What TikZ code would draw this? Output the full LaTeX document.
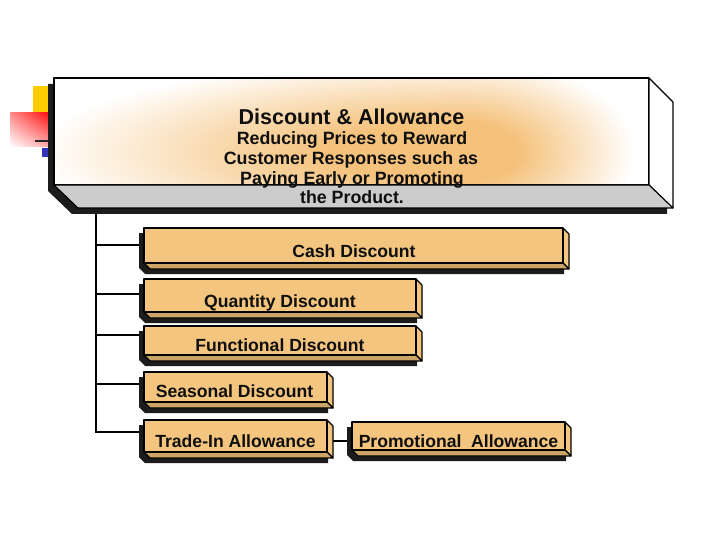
\documentclass[tikz,border=0pt]{standalone}
\usepackage{fontspec}
\setmainfont{Liberation Sans}
\usetikzlibrary{fit,calc,shadings}
\definecolor{peach}{RGB}{245,194,124}
\definecolor{itemfill}{RGB}{244,197,126}
\definecolor{itembot}{RGB}{204,164,104}
\definecolor{shadowc}{RGB}{28,28,28}
\definecolor{bevgray}{RGB}{204,204,204}
\definecolor{yellowc}{RGB}{255,204,0}
\definecolor{bluec}{RGB}{51,51,187}
\definecolor{inkc}{RGB}{15,15,15}
\pgfdeclareradialshading{glow}{\pgfpoint{0bp}{0bp}}{color(0bp)=(peach); color(8bp)=(peach); color(25bp)=(white); color(50bp)=(white)}
\pgfdeclarelayer{bg}
\pgfsetlayers{bg,main}
\tikzset{
  outline/.style={draw=black, line width=1.1pt, line join=round},
  itemface/.style={outline, fill=itemfill, inner sep=0pt, outer sep=0pt},
  sideface/.style={outline, fill=itemfill},
  botface/.style={outline, fill=itembot},
  treeline/.style={draw=black, line width=2.4pt},
  titletext/.style={font=\fontsize{21.5}{24}\selectfont\bfseries, text=inkc, inner sep=0pt, anchor=base},
  subtext/.style={font=\fontsize{17.8}{20}\selectfont\bfseries, text=inkc, inner sep=0pt, anchor=base},
  itemtext/.style={font=\fontsize{17.6}{20}\selectfont\bfseries, text=inkc, inner sep=0pt, anchor=base},
}
\newcommand\itembox[5]{%
  \fill[shadowc, shift={(-5,5)}] (#2,#3) -- (#4,#3) -- ({#4+6},{#3+6}) -- ({#4+6},{#5+6}) -- ({#2+6},{#5+6}) -- (#2,#5) -- cycle;
  \filldraw[sideface] (#4,#3) -- ({#4+6},{#3+6}) -- ({#4+6},{#5+6}) -- (#4,#5) -- cycle;
  \filldraw[botface] (#2,#5) -- (#4,#5) -- ({#4+6},{#5+6}) -- ({#2+6},{#5+6}) -- cycle;
  \path (#2,#3) coordinate (#1-nw) (#4,#5) coordinate (#1-se);
  \node[itemface, fit=(#1-nw)(#1-se)] (#1) {};
}
\begin{document}
\begin{tikzpicture}[x=1pt,y=-1pt]
\useasboundingbox (0,0) rectangle (720,540);
% decorations
\fill[yellowc] (33,86) rectangle (54,113);
\shade[upper left=red!45!white, upper right=red, lower left=white, lower right=red!35!white] (10,113) rectangle (54,147);
\draw[line width=2.5pt, black!85] (35,141) -- (54,141);
\fill[bluec] (42,148) rectangle (54,157);
% top box
\fill[shadowc, shift={(-6,6)}] (54,78) -- (649,78) -- (673,102) -- (673,208) -- (78,208) -- (54,185) -- cycle;
\fill[white] (54,78) rectangle (649,185);
\begin{scope}
  \clip (54,78) rectangle (465,185);
  \shade[shading=glow] (465,152) ellipse [x radius=430pt, y radius=95pt];
\end{scope}
\begin{scope}
  \clip (465,78) rectangle (649,185);
  \shade[shading=glow] (465,152) ellipse [x radius=170pt, y radius=95pt];
\end{scope}
\path (54,78) coordinate (top-nw) (649,185) coordinate (top-se);
\node[outline, inner sep=0pt, outer sep=0pt, fit=(top-nw)(top-se)] (topbox) {};
\filldraw[outline, fill=white] (649,78) -- (673,102) -- (673,208) -- (649,185) -- cycle;
\filldraw[outline, fill=bevgray] (54,185) -- (649,185) -- (673,208) -- (78,208) -- cycle;
\node[titletext] (title) at (351.5,125) {Discount \& Allowance};
\node[subtext] (l1) at (352,145) {Reducing Prices to Reward};
\node[subtext] (l2) at (351,165) {Customer Responses such as};
\node[subtext] (l3) at (352,185) {Paying Early or Promoting};
\node[subtext] (l4) at (352,204) {the Product.};
% items
\itembox{cash}{144}{228}{563}{263}
\node[itemtext] (cash-t) at (354,258) {Cash Discount};
\itembox{qty}{144}{279}{416}{312}
\node[itemtext] (qty-t) at (280,307) {Quantity Discount};
\itembox{func}{144}{326}{416}{355}
\node[itemtext] (func-t) at (280,351) {Functional Discount};
\itembox{seas}{144}{372}{327}{402}
\node[itemtext] (seas-t) at (234.5,397) {Seasonal Discount};
\itembox{trade}{144}{420}{327}{452}
\node[itemtext] (trade-t) at (235.5,447) {Trade-In Allowance};
\itembox{promo}{352}{422}{565}{450}
\node[itemtext] (promo-t) at (458.5,447) {Promotional~ Allowance};
% connectors
\coordinate (trunktop) at (96,208);
\coordinate (cb) at ($(cash.west)+(0,-0.5)$);
\coordinate (qb) at ($(qty.west)+(0,-1.5)$);
\coordinate (fb) at ($(func.west)+(0,-5.5)$);
\coordinate (sb) at ($(seas.west)+(0,-3)$);
\coordinate (tb) at ($(trade.west)+(0,-4)$);
\coordinate (tp) at ($(trade.east)+(0,4.5)$);
\begin{pgfonlayer}{bg}
  \draw[treeline] (trunktop) |- (tb);
  \draw[treeline] (trunktop |- cb) -- (cb);
  \draw[treeline] (trunktop |- qb) -- (qb);
  \draw[treeline] (trunktop |- fb) -- (fb);
  \draw[treeline] (trunktop |- sb) -- (sb);
  \draw[line width=2pt] (tp) -- (tp -| promo.west);
\end{pgfonlayer}
\end{tikzpicture}
\end{document}
